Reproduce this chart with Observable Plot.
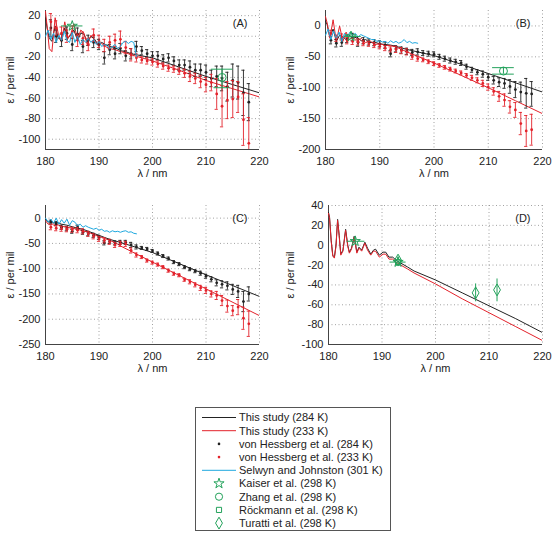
<!DOCTYPE html>
<html><head><meta charset="utf-8">
<script src="https://cdn.jsdelivr.net/npm/d3@7"></script>
<script src="https://cdn.jsdelivr.net/npm/@observablehq/plot@0.6"></script>
<style>
body{margin:0;background:#fff;}
#wrap{position:relative;width:555px;height:534px;font-family:"Liberation Sans",Arial,sans-serif;color:#222;}
.panel{position:absolute;}
</style></head><body><div id="wrap"></div>
<script>
// ---------- data ----------
const xTicks = [180, 190, 200, 210, 220];
const wl = [181,182,183,184,185,186,187,188,189,190,191,192,193,194,195,196,197,198,199,200,201,202,203,204,205,206,207,208,209,210,211,212,213,214,215,216,217,218];

// von Hessberg et al. values and errors
const vhA284 = [8,0,-4,3,-8,2,-10,-4,-6,-8,-21,-13,-17,-12,-19,-17,-10,-14,-17,-19,-19,-22,-21,-24,-28,-28,-30,-33,-33,-35,-41,-39,-41,-49,-43,-45,-55,-64];
const vhA233 = [14,8,3,0,4,-4,-2,-8,1,-5,-9,-6,-4,-3,-11,-18,-21,-23,-24,-25,-27,-29,-31,-32,-34,-36,-39,-41,-44,-47,-45,-56,-68,-62,-61,-59,-81,-104];
const errA284 = [8,6,6,6,6,6,6,5,5,5,6,5,5,5,5,5,5,4,4,4,4,4,4,4,5,5,6,6,6,7,8,10,12,14,16,16,22,18];
const errA233 = [8,7,6,6,6,6,6,6,6,6,6,6,6,8,6,6,4,3,3,3,3,3,3,3,3,4,5,5,6,7,8,15,20,18,18,15,25,25];

const vhB284 = [-23,-28,-27,-21,-18,-27,-24,-26,-27,-29,-31,-45,-37,-39,-41,-43,-42,-44,-45,-46,-50,-53,-56,-58,-60,-66,-71,-75,-78,-83,-88,-91,-93,-98,-103,-107,-109,-110];
const vhB233 = [-12,-20,-18,-24,-25,-26,-28,-29,-31,-33,-36,-38,-38,-40,-42,-50,-53,-55,-58,-61,-64,-67,-70,-73,-76,-80,-84,-88,-93,-99,-106,-114,-120,-131,-136,-158,-170,-168];
const errB284 = [6,6,6,6,6,6,5,5,5,5,5,5,5,5,5,5,5,4,4,4,4,4,4,4,4,4,4,4,5,5,6,7,8,11,13,16,24,20];
const errB233 = [5,5,5,5,5,5,4,4,4,4,4,4,5,5,5,4,4,3,3,3,3,3,3,3,3,3,4,4,5,5,6,8,10,10,12,18,25,25];

const vhC284 = [-8,-11,-18,-21,-26,-18,-28,-31,-34,-38,-49,-46,-49,-48,-48,-53,-57,-59,-61,-65,-70,-75,-80,-87,-91,-97,-101,-105,-109,-115,-121,-128,-131,-134,-141,-145,-165,-150];
const vhC233 = [-18,-20,-21,-22,-23,-24,-26,-31,-36,-41,-44,-47,-53,-51,-51,-64,-73,-77,-84,-88,-92,-97,-104,-110,-113,-122,-126,-132,-138,-143,-150,-153,-163,-174,-183,-176,-198,-209];
const errC284 = [4,4,4,4,4,4,4,4,4,4,4,4,4,4,4,5,4,3,3,3,3,3,3,3,3,3,3,3,4,4,5,6,7,8,10,12,20,14];
const errC233 = [5,5,5,5,5,5,5,5,5,5,5,5,5,5,5,5,4,3,3,3,3,3,3,3,3,3,4,4,5,6,6,8,10,12,10,15,22,25];

// Selwyn and Johnston (301 K)
const sw = [180,180.5,181,181.5,182,182.5,183,183.5,184,184.5,185,185.5,186,186.5,187,187.5,188,188.5,189,189.5,190,190.5,191,191.5,192,192.5,193,193.5,194,194.5,195,195.5,196,196.5,197];
const swA = [0,6,-3,3,-6,1,-4,5,-4,-6,4,-6,0,-8,-3,-6,-2,-6,-3,-8,-5,-10,-8,-9,-12,-10,-8,-12,-10,-6,-5,-7,-5,-6,-20];
const swB = [-15,-5,-22,-8,-20,-10,-25,-12,-18,-10,-15,-12,-18,-14,-16,-18,-20,-22,-22,-25,-24,-26,-25,-28,-24,-27,-25,-28,-26,-22,-27,-25,-28,-27,-28];
const swC = [0,-8,-2,-10,0,-12,-3,-10,-2,-14,-5,-8,-15,-12,-18,-15,-18,-20,-22,-20,-24,-22,-26,-25,-28,-25,-27,-26,-28,-26,-25,-28,-27,-30,-31];

// This study lines
const lamA = [180,180.3,180.7,181.2,181.8,182.4,183,183.6,184.2,184.8,185.3,186,186.6,187.2,187.8,188.5,189.2,189.8,190.5,191.2,192,193,194,195,196,200,205,210,215,220];
const lineA284 = [18,8,-2,-5,10,-2,-3,8,-2,2,6,-4,3,2,-6,0,-3,-8,-6,-8,-10,-11,-14,-15,-17,-21,-30,-39,-47,-55];
const lineA233 = [24,10,-12,-15,18,2,-6,14,-2,3,12,-3,6,3,-8,1,-4,-9,-7,-10,-12,-13,-15,-16,-18,-24,-33,-43,-51,-59];

const lamB = [180,180.3,180.8,181.4,182,182.6,183.2,183.8,184.4,185,185.8,186.6,187.4,188.2,189,190,191,192,193,195,200,205,210,215,220];
const lineB284 = [8,2,-18,-5,-25,-15,-18,-22,-15,-20,-18,-24,-22,-27,-26,-29,-30,-31,-33,-38,-48,-62,-77,-92,-107];
const lineB233 = [15,5,-20,10,-25,0,-25,-10,-22,-18,-25,-20,-27,-24,-30,-29,-31,-32,-34,-42,-60,-80,-100,-121,-142];

const lamC = [180,180.5,181,181.5,182,183,184,185,186,187,188,189,190,191,192,193,194,200,210,220];
const lineC284 = [-2,-8,-4,-10,-8,-12,-14,-17,-20,-22,-26,-30,-34,-38,-42,-45,-48,-68,-112,-155];
const lineC233 = [-5,-12,-8,-14,-12,-16,-18,-20,-22,-25,-28,-32,-36,-40,-44,-48,-55,-87,-140,-193];

const lamD = [180,180.2,180.5,180.8,181.1,181.4,181.7,182.0,182.3,182.7,183.2,183.6,183.9,184.3,184.8,185.3,185.7,186.2,186.8,187.3,187.9,188.4,188.8,189.5,190.2,190.7,191.3,192,192.6,193.5,194.8,196,200,205,210,215,220];
const lineD284 = [33,28,5,-10,-12,0,26,10,-9,-5,16,0,-7,-3,9,-7,-2,-5,3,-3,-9,-5,-4,-10,-7,-7,-12,-12,-15,-18,-22,-26,-35,-48,-61,-74,-88];
const lineD233 = [32,27,4,-11,-13,-1,25,9,-10,-6,15,-1,-8,-4,8,-8,-3,-6,2,-5,-10,-6,-6,-12,-9,-9,-14,-14,-17,-20,-24,-28,-39,-54,-68,-82,-96];

// Literature points (symbol, x, y), horizontal bars (y, x1, x2), vertical bars (x, y1, y2)
const litMarksA = [["star",185,10],["circle",213,-40]];
const litHBarsA = [[10,183,187],[-32,211,215],[-50,211.5,214.5]];
const litVBarsA = [[213,-50,-32]];
const litMarksB = [["star",184.7,-17],["circle",212.8,-73]];
const litHBarsB = [[-17,183.5,186.6],[-67.5,210.8,214.8],[-78,210.8,214.8]];
const litVBarsB = [[184.7,-20,-14],[212.8,-78,-67.5]];
const litMarksD = [["star",185,4],["star",193,-17],["square",193,-17],["diamond",193,-15],["diamond",207.5,-48],["diamond",211.5,-45]];
const litHBarsD = [[4,183.5,186.8],[-17,191.5,194.5]];
const litVBarsD = [[185,0,8],[193,-21,-12],[207.5,-57,-39],[211.5,-57,-34]];

const legendLabels = ["This study (284 K)","This study (233 K)","von Hessberg et al. (284 K)","von Hessberg et al. (233 K)","Selwyn and Johnston (301 K)","Kaiser et al. (298 K)","Zhang et al. (298 K)","Röckmann et al. (298 K)","Turatti et al. (298 K)"];

// ---------- styling ----------
const BLACK = "#222", RED = "#e3222b", CYAN = "#1ea8df", GREEN = "#23a25b";
const wrap = document.getElementById("wrap");

const zipXY = (xs, ys, es) => xs.map((x, i) => ({x, y: ys[i], e: es ? es[i] : 0}));

function vhMarks(data, color) {
  return [
    Plot.ruleX(data, {x: "x", y1: d => d.y - d.e, y2: d => d.y + d.e, stroke: color, strokeWidth: 0.9, clip: true}),
    Plot.ruleY(data, {y: d => d.y - d.e, x1: d => d.x - 0.3, x2: d => d.x + 0.3, stroke: color, strokeWidth: 0.9, clip: true}),
    Plot.ruleY(data, {y: d => d.y + d.e, x1: d => d.x - 0.3, x2: d => d.x + 0.3, stroke: color, strokeWidth: 0.9, clip: true}),
    Plot.dot(data, {x: "x", y: "y", r: 1.4, fill: color, clip: true})
  ];
}

function litMarks(marks, hbars, vbars) {
  if (!marks) return [];
  const sizes = {star: 3.2, circle: 4, square: 2.8, diamond: 3.6};
  const out = [
    Plot.ruleY(hbars, {y: d => d[0], x1: d => d[1], x2: d => d[2], stroke: GREEN, strokeWidth: 1}),
    Plot.ruleX(vbars, {x: d => d[0], y1: d => d[1], y2: d => d[2], stroke: GREEN, strokeWidth: 1})
  ];
  for (const s of ["circle", "square", "diamond", "star"]) {
    const sub = marks.filter(m => m[0] === s);
    if (sub.length) out.push(Plot.dot(sub, {x: d => d[1], y: d => d[2], symbol: s, r: sizes[s], stroke: GREEN, fill: "none", strokeWidth: 1}));
  }
  return out;
}

function panel(o) {
  const H = 185;
  const grid = {stroke: "#8a8a8a", strokeOpacity: 1, strokeDasharray: "1,2.5", strokeWidth: 0.8};
  const marks = [
    Plot.gridX(xTicks, grid),
    Plot.gridY(o.yTicks, grid),
    Plot.ruleX([180], {stroke: "#444", strokeWidth: 1}),
    Plot.ruleY([o.yDomain[0]], {stroke: "#444", strokeWidth: 1}),
    Plot.axisX(xTicks, {tickSize: 0, tickPadding: 8, tickFormat: d => String(d), label: null}),
    Plot.axisY(o.yTicks, {tickSize: 0, tickPadding: 5, tickFormat: d => String(d), label: null}),
    Plot.line(zipXY(o.lam, o.l284), {x: "x", y: "y", stroke: BLACK, strokeWidth: 1, clip: true}),
    Plot.line(zipXY(o.lam, o.l233), {x: "x", y: "y", stroke: RED, strokeWidth: 1, clip: true}),
  ];
  if (o.vh284) marks.push(...vhMarks(zipXY(wl, o.vh284, o.e284), BLACK));
  if (o.vh233) marks.push(...vhMarks(zipXY(wl, o.vh233, o.e233), RED));
  if (o.sw) marks.push(Plot.line(zipXY(sw, o.sw), {x: "x", y: "y", stroke: CYAN, strokeWidth: 1, clip: true}));
  marks.push(...litMarks(o.lm, o.lh, o.lv));
  marks.push(
    Plot.text([o.label], {text: d => d, frameAnchor: "top-right", dx: -12, dy: 9, fill: BLACK}),
    Plot.text(["λ / nm"], {text: d => d, frameAnchor: "bottom", dy: 24, lineAnchor: "middle", textAnchor: "middle", fill: BLACK}),
    Plot.text(["ε / per mil"], {text: d => d, frameAnchor: "left", dx: o.ylabDx, rotate: -90, textAnchor: "middle", lineAnchor: "middle", fill: BLACK})
  );
  const svg = Plot.plot({
    width: o.width, height: H,
    marginLeft: o.ml, marginRight: o.mr, marginTop: 10, marginBottom: 36,
    x: {domain: [180, 220]},
    y: {domain: o.yDomain},
    style: {fontFamily: '"Liberation Sans", Arial, sans-serif', fontSize: "11px", color: BLACK, background: "transparent", overflow: "visible"},
    marks
  });
  svg.classList.add("panel");
  svg.style.left = o.left + "px";
  svg.style.top = o.top + "px";
  wrap.appendChild(svg);
}

panel({left: 0, top: 0, width: 270, ml: 45, mr: 11, ylabDx: -35, yDomain: [-110, 25], yTicks: [20,0,-20,-40,-60,-80,-100],
  lam: lamA, l284: lineA284, l233: lineA233, vh284: vhA284, vh233: vhA233, e284: errA284, e233: errA233, sw: swA,
  lm: litMarksA, lh: litHBarsA, lv: litVBarsA, label: "(A)"});
panel({left: 270, top: 0, width: 285, ml: 55, mr: 13, ylabDx: -35, yDomain: [-200, 25], yTicks: [0,-50,-100,-150,-200],
  lam: lamB, l284: lineB284, l233: lineB233, vh284: vhB284, vh233: vhB233, e284: errB284, e233: errB233, sw: swB,
  lm: litMarksB, lh: litHBarsB, lv: litVBarsB, label: "(B)"});
panel({left: 0, top: 195, width: 270, ml: 45, mr: 11, ylabDx: -35, yDomain: [-250, 25], yTicks: [0,-50,-100,-150,-200,-250],
  lam: lamC, l284: lineC284, l233: lineC233, vh284: vhC284, vh233: vhC233, e284: errC284, e233: errC233, sw: swC,
  label: "(C)"});
panel({left: 270, top: 195, width: 285, ml: 58, mr: 13, ylabDx: -38, yDomain: [-100, 40], yTicks: [40,20,0,-20,-40,-60,-80,-100],
  lam: lamD, l284: lineD284, l233: lineD233,
  lm: litMarksD, lh: litHBarsD, lv: litVBarsD, label: "(D)"});

// ---------- legend ----------
const legendKinds = [
  {kind: "line", color: BLACK}, {kind: "line", color: RED},
  {kind: "dot", color: BLACK}, {kind: "dot", color: RED},
  {kind: "line", color: CYAN},
  {kind: "sym", sym: d3.symbolStar, size: 3.2}, {kind: "sym", sym: d3.symbolCircle, size: 3.6},
  {kind: "sym", sym: d3.symbolSquare, size: 2.9}, {kind: "sym", sym: d3.symbolDiamond, size: 3.6}
];
const lg = d3.create("svg").attr("width", 196).attr("height", 124)
  .style("position", "absolute").style("left", "195px").style("top", "407px").style("overflow", "visible");
lg.append("rect").attr("x", 0.5).attr("y", 0.5).attr("width", 195).attr("height", 123).attr("fill", "#fff").attr("stroke", "#555");
legendLabels.forEach((t, i) => {
  const y = 10.5 + i * 13.2;
  const k = legendKinds[i];
  if (k.kind === "line") lg.append("line").attr("x1", 7).attr("x2", 41).attr("y1", y).attr("y2", y).attr("stroke", k.color).attr("stroke-width", 1);
  else if (k.kind === "dot") lg.append("circle").attr("cx", 24).attr("cy", y).attr("r", 1.3).attr("fill", k.color);
  else lg.append("path").attr("d", d3.symbol(k.sym, Math.PI * k.size * k.size)()).attr("transform", `translate(24,${y})`)
    .attr("fill", "none").attr("stroke", GREEN).attr("stroke-width", 1);
  lg.append("text").attr("x", 44).attr("y", y).attr("dy", "0.35em").attr("font-size", 11)
    .attr("font-family", '"Liberation Sans", Arial, sans-serif').attr("fill", BLACK).text(t);
});
wrap.appendChild(lg.node());
</script>
</body></html>
